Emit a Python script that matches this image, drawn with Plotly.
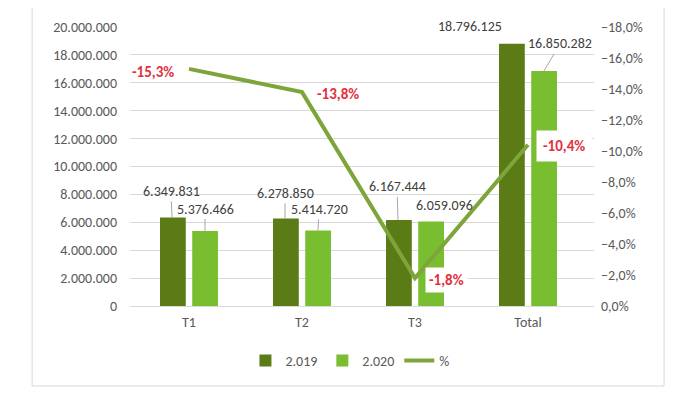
import plotly.graph_objects as go

categories = ["T1", "T2", "T3", "Total"]
values_2019 = [6349831, 6278850, 6167444, 18796125]
values_2020 = [5376466, 5414720, 6059096, 16850282]
pct_change = [-0.153, -0.138, -0.018, -0.104]
series_names = ["2.019", "2.020", "%"]

DARK = "#5A7B16"
LIGHT = "#79BE30"
LINE = "#7EA53A"
RED = "#E2313E"
FONT = "Carlito, Lato, sans-serif"

def fmt_int(v):
    return f"{v:,}".replace(",", ".")

def fmt_pct(v):
    return f"{v*100:.1f}%".replace(".", ",")

fig = go.Figure()
fig.add_trace(go.Bar(x=categories, y=values_2019, name=series_names[0],
                     marker=dict(color=DARK, line=dict(width=0))))
fig.add_trace(go.Bar(x=categories, y=values_2020, name=series_names[1],
                     marker=dict(color=LIGHT, line=dict(width=0))))
fig.add_trace(go.Scatter(x=categories, y=pct_change, name=series_names[2], yaxis="y2",
                         mode="lines", line=dict(color=LINE, width=4)))

ann = []
dark_shift = -17
light_shift = 16
specs_2019 = [(-1, -26, True), (0, -25, True), (-1, -33, True), (None, None, False)]
specs_2020 = [(0, -22, True), (1, -21, True), (None, None, False), (16, -27, True)]
for i, (c, v) in enumerate(zip(categories, values_2019)):
    ax_, ay_, arr = specs_2019[i]
    if arr:
        ann.append(dict(x=c, y=v, xref="x", yref="y", text=fmt_int(v), xshift=dark_shift,
                        showarrow=True, arrowhead=0, arrowwidth=1, arrowcolor="#A6A6A6",
                        ax=ax_, ay=ay_, standoff=0, startstandoff=0,
                        font=dict(size=14, color="#404040", family=FONT)))
    else:
        ann.append(dict(x=c, y=v, xref="x", yref="y", text=fmt_int(v), xshift=dark_shift - 41,
                        yshift=17, showarrow=False, bgcolor="white",
                        font=dict(size=14, color="#404040", family=FONT)))
for i, (c, v) in enumerate(zip(categories, values_2020)):
    ax_, ay_, arr = specs_2020[i]
    if arr:
        ann.append(dict(x=c, y=v, xref="x", yref="y", text=fmt_int(v), xshift=light_shift,
                        showarrow=True, arrowhead=0, arrowwidth=1, arrowcolor="#A6A6A6",
                        ax=ax_, ay=ay_, standoff=0, startstandoff=0,
                        font=dict(size=14, color="#404040", family=FONT)))
    else:
        ann.append(dict(x=c, y=v, xref="x", yref="y", text=fmt_int(v), xshift=light_shift + 13,
                        yshift=16, showarrow=False,
                        font=dict(size=14, color="#404040", family=FONT)))

pct_specs = [(-36, -3, None), (36, -2, None), (31, -2, "white"), (36, -1, "white")]
for c, p, (xs, ys, bg) in zip(categories, pct_change, pct_specs):
    d = dict(x=c, y=p, xref="x", yref="y2", text=f"<b>{fmt_pct(p)}</b>", xshift=xs, yshift=ys,
             showarrow=False, font=dict(size=15, color=RED, family=FONT))
    if bg:
        d["bgcolor"] = bg
        d["borderpad"] = 6 if c == "Total" else 3
    ann.append(d)

fig.update_layout(
    width=688, height=390,
    margin=dict(l=122, r=102, t=19, b=92, autoexpand=False),
    paper_bgcolor="white", plot_bgcolor="white",
    separators=",.",
    barmode="group", bargap=0.43, bargroupgap=0.2,
    font=dict(family=FONT, size=13, color="#595959"),
    xaxis=dict(showgrid=False, showline=False, ticks="", tickfont=dict(size=14, color="#595959"),
               ticklabelstandoff=6),
    yaxis=dict(range=[0, 20000000], dtick=2000000, tickformat=",d", showgrid=True,
               gridcolor="#D9D9D9", gridwidth=1, zeroline=True, zerolinecolor="#D9D9D9",
               zerolinewidth=1, showline=False, ticks="", ticklabelstandoff=12,
               tickfont=dict(size=14, color="#595959")),
    yaxis2=dict(range=[0, -0.18], dtick=0.02, tickformat=".1%", overlaying="y", side="right",
                showgrid=False, zeroline=False, showline=False, ticks="", ticklabelstandoff=6,
                tickfont=dict(size=14, color="#595959")),
    legend=dict(orientation="h", x=0.474, xanchor="center", y=-0.197, yanchor="middle",
                font=dict(size=14, color="#595959", family=FONT), traceorder="normal"),
    annotations=ann,
    shapes=[dict(type="rect", xref="paper", yref="paper", x0=-0.211, x1=1.151, y0=-0.2867,
                 y1=1.0717, line=dict(color="#D9D9D9", width=1), fillcolor="rgba(0,0,0,0)",
                 layer="below")],
)

fig.write_html("out.html")
